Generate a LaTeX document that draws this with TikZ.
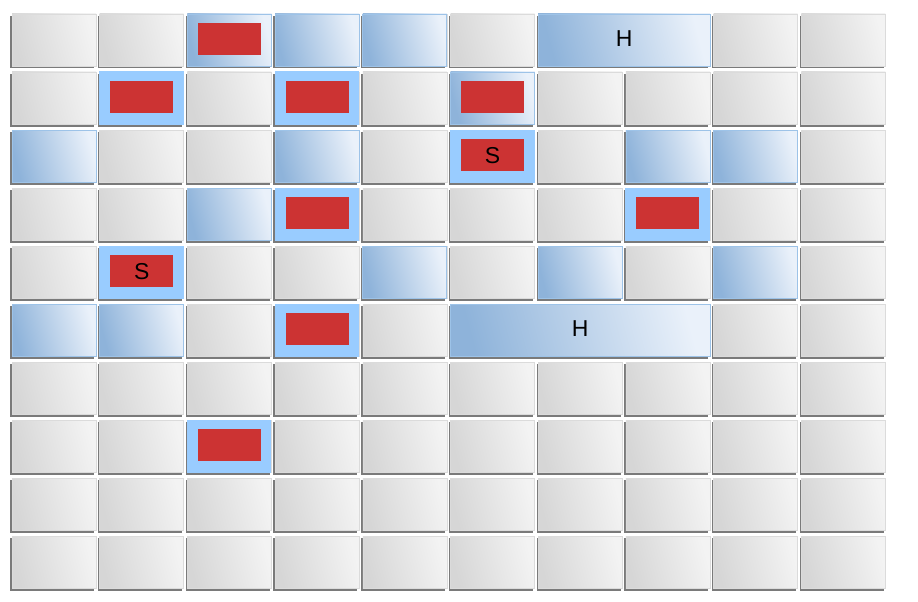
\documentclass[tikz,border=0pt]{standalone}
\usepackage{fontspec}
\setmainfont{Liberation Sans}
\definecolor{grayA}{HTML}{D6D6D6}
\definecolor{grayB}{HTML}{F3F3F3}
\definecolor{blueA}{HTML}{8EB3DA}
\definecolor{blueB}{HTML}{EAF1FA}
\definecolor{blueedge}{HTML}{9DC3E8}
\definecolor{hiblue}{HTML}{99CCFF}
\definecolor{cellred}{HTML}{CC3333}
\tikzset{
  tileshadow/.style={fill=black!52},
  graytile/.style={left color=grayA, right color=grayB, shading angle=105, draw=black!14, line width=0.6pt},
  bluetile/.style={left color=blueA, right color=blueB, shading angle=105, draw=blueedge, line width=0.8pt},
  hitile/.style={fill=hiblue},
  redbox/.style={fill=cellred},
  lbl/.style={font=\fontsize{23}{23}\selectfont, text=black, inner sep=0pt}
}
\newcommand{\tile}[4]{%
  \pgfmathsetmacro\xa{12+87.7*#1}%
  \pgfmathsetmacro\xb{12+87.7*(#1+#3-1)+84}%
  \pgfmathsetmacro\ya{14+58*#2}%
  \pgfmathsetmacro\yb{\ya+52.5}%
  \fill[tileshadow] (\xa-1.7,\ya+2) rectangle (\xb-1.7,\yb+2);
  \path[#4] (\xa,\ya) rectangle (\xb,\yb);
}
\newcommand{\flattile}[2]{%
  \pgfmathsetmacro\xa{12+87.7*#1}%
  \pgfmathsetmacro\ya{14+58*#2}%
  \fill[hitile] (\xa-0.5,\ya-0.5) rectangle (\xa+84,\ya+53);
}
\newcommand{\redmarker}[4]{% col,row,name,text
  \pgfmathsetmacro\xa{12+87.7*#1}%
  \pgfmathsetmacro\ya{14+58*#2}%
  \fill[redbox] (\xa+10.5,\ya+9) rectangle (\xa+73.5,\ya+41);
  \node[lbl] (#3) at (\xa+42,\ya+25.5) {#4};
}
\begin{document}
\begin{tikzpicture}[x=1pt,y=-1pt]
\useasboundingbox (0,0) rectangle (918,602);
\fill[white] (0,0) rectangle (918,602);
% all gray tiles
\foreach \r in {0,...,9}{
  \foreach \c in {0,...,9}{
    \tile{\c}{\r}{1}{graytile}
  }
}
% blue tiles
\foreach \c/\r in {3/0,4/0,0/2,3/2,7/2,8/2,2/3,4/4,6/4,8/4,0/5,1/5,2/0,5/1}{
  \tile{\c}{\r}{1}{bluetile}
}
\tile{6}{0}{2}{bluetile}
\tile{5}{5}{3}{bluetile}
\node[lbl] (h1) at ({12+87.7*6+(87.7+84)/2},{14+24.5}) {H};
\node[lbl] (h2) at ({12+87.7*5+(2*87.7+84)/2},{14+58*5+24.5}) {H};
% flat highlighted tiles
\foreach \c/\r in {1/1,3/1,5/2,3/3,7/3,1/4,3/5,2/7}{
  \flattile{\c}{\r}
}
% red markers
\redmarker{2}{0}{m1}{}
\redmarker{1}{1}{m2}{}
\redmarker{3}{1}{m3}{}
\redmarker{5}{1}{m4}{}
\redmarker{5}{2}{s1}{S}
\redmarker{3}{3}{m5}{}
\redmarker{7}{3}{m6}{}
\redmarker{1}{4}{s2}{S}
\redmarker{3}{5}{m7}{}
\redmarker{2}{7}{m8}{}
\end{tikzpicture}
\end{document}
